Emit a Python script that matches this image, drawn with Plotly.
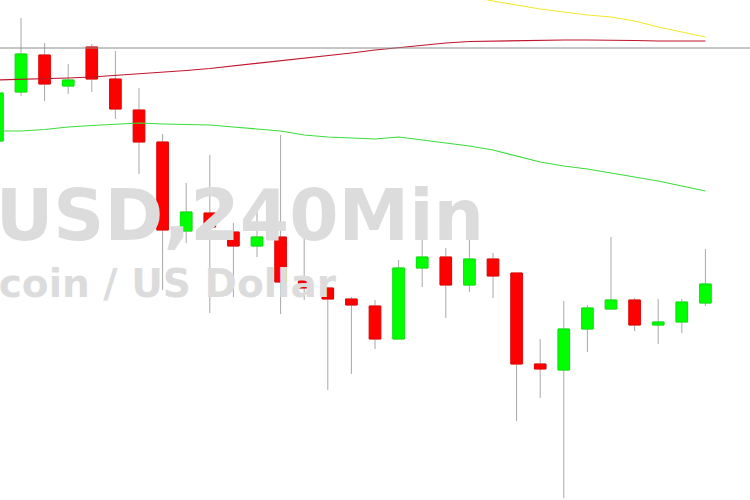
import plotly.graph_objects as go

# candle index (4h bars)
idx = list(range(31))

# OHLC values (arbitrary price units)
opens  = [359, 408, 445, 414, 453, 421, 390, 358, 269, 287, 268, 254, 263, 219, 212, 201,
          194, 161, 232, 243, 215, 241, 227, 136, 130, 171, 191, 200, 175, 178, 197]
highs  = [410, 482, 457, 436, 456, 449, 412, 366, 317, 345, 277, 290, 365, 269, 213, 203,
          200, 240, 268, 252, 260, 247, 227, 161, 199, 195, 263, 202, 201, 201, 251]
lows   = [357, 404, 399, 406, 408, 381, 326, 210, 257, 187, 203, 243, 186, 200, 110, 126,
          151, 161, 213, 182, 208, 202, 79, 102, 2, 148, 190, 169, 156, 167, 194]
closes = [407, 446, 416, 420, 421, 391, 358, 270, 288, 273, 254, 263, 218, 212, 201, 195,
          161, 232, 243, 215, 241, 224, 136, 131, 171, 192, 200, 175, 178, 198, 216]

# moving averages
ma_red = [420, 420.5, 421, 422, 423, 424.5, 426, 427.5, 429.5, 431.5, 434, 436.5, 439, 441.5,
          444, 447, 450, 452.5, 455, 457, 458.5, 459, 459.5, 460, 460, 460, 460, 459.5, 459,
          459, 459]
ma_green = [369, 369, 370.5, 373, 374.5, 376, 377, 376, 375.5, 375, 373, 371, 369, 365, 363,
            362, 361, 363, 360, 357.5, 354, 350, 344, 338, 334, 331, 327, 323, 319, 314, 309]
ma_yellow = [None] * 19 + [509, 504, 499, 495, 491, 488, 485, 483, 479, 473, 468, 463]

level = 452
title1 = "BTCUSD,240Min"
title2 = "Bitcoin / US Dollar"

body_hi = [max(o, c) for o, c in zip(opens, closes)]
body_lo = [min(o, c) for o, c in zip(opens, closes)]

fig = go.Figure()

# wicks
fig.add_trace(go.Candlestick(
    x=idx, open=opens, high=highs, low=lows, close=closes,
    increasing=dict(line=dict(color="#a8a8a8", width=1), fillcolor="rgba(0,0,0,0)"),
    decreasing=dict(line=dict(color="#a8a8a8", width=1), fillcolor="rgba(0,0,0,0)"),
    showlegend=False, hoverinfo="skip"))

# bodies
fig.add_trace(go.Candlestick(
    x=idx, open=opens, high=body_hi, low=body_lo, close=closes,
    increasing=dict(line=dict(color="#00ee00", width=1), fillcolor="#00ff00"),
    decreasing=dict(line=dict(color="#ee0000", width=1), fillcolor="#ff0000"),
    showlegend=False))

fig.add_trace(go.Scatter(x=idx, y=ma_green, mode="lines",
                         line=dict(color="#3ddc3d", width=1.2), showlegend=False))
fig.add_trace(go.Scatter(x=idx, y=ma_red, mode="lines",
                         line=dict(color="#c0142c", width=1.2), showlegend=False))
fig.add_trace(go.Scatter(x=idx, y=ma_yellow, mode="lines",
                         line=dict(color="#f2e830", width=1.2), showlegend=False))

fig.add_shape(type="line", xref="paper", x0=0, x1=1, yref="y", y0=level, y1=level,
              line=dict(color="#8c8c8c", width=1), layer="above")

fig.add_annotation(text=title1, xref="paper", yref="paper", x=486 / 750, y=1 - 216 / 500,
                   xanchor="right", yanchor="middle", showarrow=False,
                   font=dict(family="DejaVu Sans", size=71, color="#dcdcdc", weight="bold"))
fig.add_annotation(text=title2, xref="paper", yref="paper", x=339 / 750, y=1 - 283 / 500,
                   xanchor="right", yanchor="middle", showarrow=False,
                   font=dict(family="DejaVu Sans", size=39, color="#dcdcdc", weight="bold"))

fig.update_layout(
    width=750, height=500,
    margin=dict(l=0, r=0, t=0, b=0),
    paper_bgcolor="white", plot_bgcolor="white",
    xaxis=dict(visible=False, range=[0.11, 31.89], rangeslider=dict(visible=False)),
    yaxis=dict(visible=False, range=[0, 500]),
)

fig.write_html("out.html", config={"displayModeBar": False},
               post_script="document.body.style.margin='0';")
